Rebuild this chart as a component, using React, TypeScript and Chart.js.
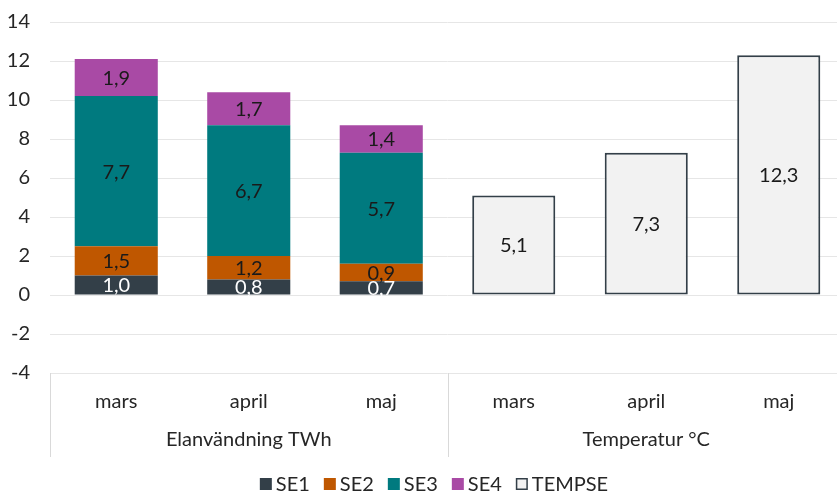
import React, { useEffect, useRef } from "react";
import { Chart, registerables } from "chart.js";

Chart.register(...registerables);

const CATEGORIES = ["mars", "april", "maj", "mars", "april", "maj"];
const GROUPS = ["Elanvändning TWh", "Temperatur °C"];
const GROUP_SIZES = [3, 3];
const SE1 = [1.0, 0.8, 0.7, null, null, null];
const SE2 = [1.5, 1.2, 0.9, null, null, null];
const SE3 = [7.7, 6.7, 5.7, null, null, null];
const SE4 = [1.9, 1.7, 1.4, null, null, null];
const TEMPSE = [null, null, null, 5.1, 7.3, 12.3];
const Y_MIN = -4;
const Y_MAX = 14;
const Y_STEP = 2;

const FONT = "Lato";
const FS = 20;
const TEXT = "#262626";

const fmt = (v: number) => v.toFixed(1).replace(".", ",");

const labelPlugin = {
  id: "customLabels",
  afterDraw(chart: any) {
    const ctx = chart.ctx;
    const area = chart.chartArea;
    const xs = chart.scales.x;
    ctx.save();
    // data labels
    chart.data.datasets.forEach((ds: any, di: number) => {
      const meta = chart.getDatasetMeta(di);
      meta.data.forEach((el: any, i: number) => {
        const v = ds.data[i];
        if (v === null || v === undefined) return;
        ctx.font = `${FS}px ${FONT}`;
        ctx.textAlign = "center";
        ctx.textBaseline = "middle";
        ctx.fillStyle = di === 0 ? "#ffffff" : "#1a1a1a";
        ctx.fillText(fmt(v), el.x, (el.y + el.base) / 2 + 1);
      });
    });
    // category labels
    ctx.font = `${FS}px ${FONT}`;
    ctx.fillStyle = TEXT;
    ctx.textAlign = "center";
    ctx.textBaseline = "middle";
    CATEGORIES.forEach((c, i) => {
      ctx.fillText(c, xs.getPixelForValue(i), area.bottom + 29);
    });
    // group labels and separators
    ctx.strokeStyle = "#d9d9d9";
    ctx.lineWidth = 1;
    let start = 0;
    const bounds: number[] = [xs.left];
    GROUPS.forEach((g, gi) => {
      const end = start + GROUP_SIZES[gi] - 1;
      const cx = (xs.getPixelForValue(start) + xs.getPixelForValue(end)) / 2;
      ctx.fillText(g, cx, area.bottom + 67);
      if (gi < GROUPS.length - 1) {
        bounds.push((xs.getPixelForValue(end) + xs.getPixelForValue(end + 1)) / 2);
      }
      start = end + 1;
    });
    bounds.push(xs.right);
    bounds.forEach((b) => {
      const bx = Math.round(b) + 0.5;
      ctx.beginPath();
      ctx.moveTo(bx, area.bottom);
      ctx.lineTo(bx, area.bottom + 84);
      ctx.stroke();
    });
    // legend
    const box = 12;
    const gap = 4;
    const spacing = 14;
    const items = chart.data.datasets.map((ds: any) => ({
      label: ds.label,
      fill: ds.backgroundColor,
      stroke: ds.borderWidth ? ds.borderColor : null,
      w: ctx.measureText(ds.label).width,
    }));
    const total =
      items.reduce((s: number, it: any) => s + box + gap + it.w, 0) +
      spacing * (items.length - 1);
    let lx = 434 - total / 2;
    const ly = area.bottom + 111;
    ctx.textAlign = "left";
    items.forEach((it: any) => {
      ctx.fillStyle = it.fill;
      ctx.fillRect(lx, ly - box / 2, box, box);
      if (it.stroke) {
        ctx.strokeStyle = it.stroke;
        ctx.lineWidth = 1.5;
        ctx.strokeRect(lx + 0.75, ly - box / 2 + 0.75, box - 1.5, box - 1.5);
      }
      ctx.fillStyle = TEXT;
      ctx.fillText(it.label, lx + box + gap, ly + 1);
      lx += box + gap + it.w + spacing;
    });
    ctx.restore();
  },
};

export default function App() {
  const ref = useRef<HTMLCanvasElement | null>(null);
  useEffect(() => {
    if (!ref.current) return;
    const chart = new Chart(ref.current, {
      type: "bar",
      data: {
        labels: CATEGORIES,
        datasets: [
          { label: "SE1", data: SE1, backgroundColor: "#333f48" },
          { label: "SE2", data: SE2, backgroundColor: "#bf5700" },
          { label: "SE3", data: SE3, backgroundColor: "#007a7f" },
          { label: "SE4", data: SE4, backgroundColor: "#a94aa5" },
          {
            label: "TEMPSE",
            data: TEMPSE,
            backgroundColor: "#f2f2f2",
            borderColor: "#333f48",
            borderWidth: 2,
            borderSkipped: false,
          },
        ] as any,
      },
      options: {
        responsive: false,
        animation: false,
        devicePixelRatio: 1,
        layout: { padding: { top: 22, right: 0, left: 0, bottom: 0 } },
        datasets: {
          bar: { categoryPercentage: 1, barPercentage: 0.627, stack: "s" } as any,
        },
        plugins: {
          tooltip: { enabled: false },
          legend: { display: false },
        },
        scales: {
          x: {
            stacked: true,
            grid: { display: false },
            border: { display: false },
            ticks: { display: false },
            afterFit: (s: any) => {
              s.height = 121;
            },
          },
          y: {
            stacked: true,
            min: Y_MIN,
            max: Y_MAX,
            ticks: {
              stepSize: Y_STEP,
              padding: 3,
              color: TEXT,
              font: { family: FONT, size: FS },
            },
            grid: {
              color: "#e6e6e6",
              drawTicks: true,
              tickLength: 17,
              tickColor: "rgba(0,0,0,0)",
            },
            border: { display: false },
            afterFit: (s: any) => {
              s.width = 50;
            },
          },
        },
      },
      plugins: [labelPlugin],
    });
    return () => chart.destroy();
  }, []);
  return (
    <div
      style={{
        position: "fixed",
        left: 0,
        top: 0,
        width: 837,
        height: 494,
        overflow: "hidden",
        background: "#fff",
      }}
    >
      <canvas ref={ref} width={845} height={494} style={{ display: "block" }} />
    </div>
  );
}
